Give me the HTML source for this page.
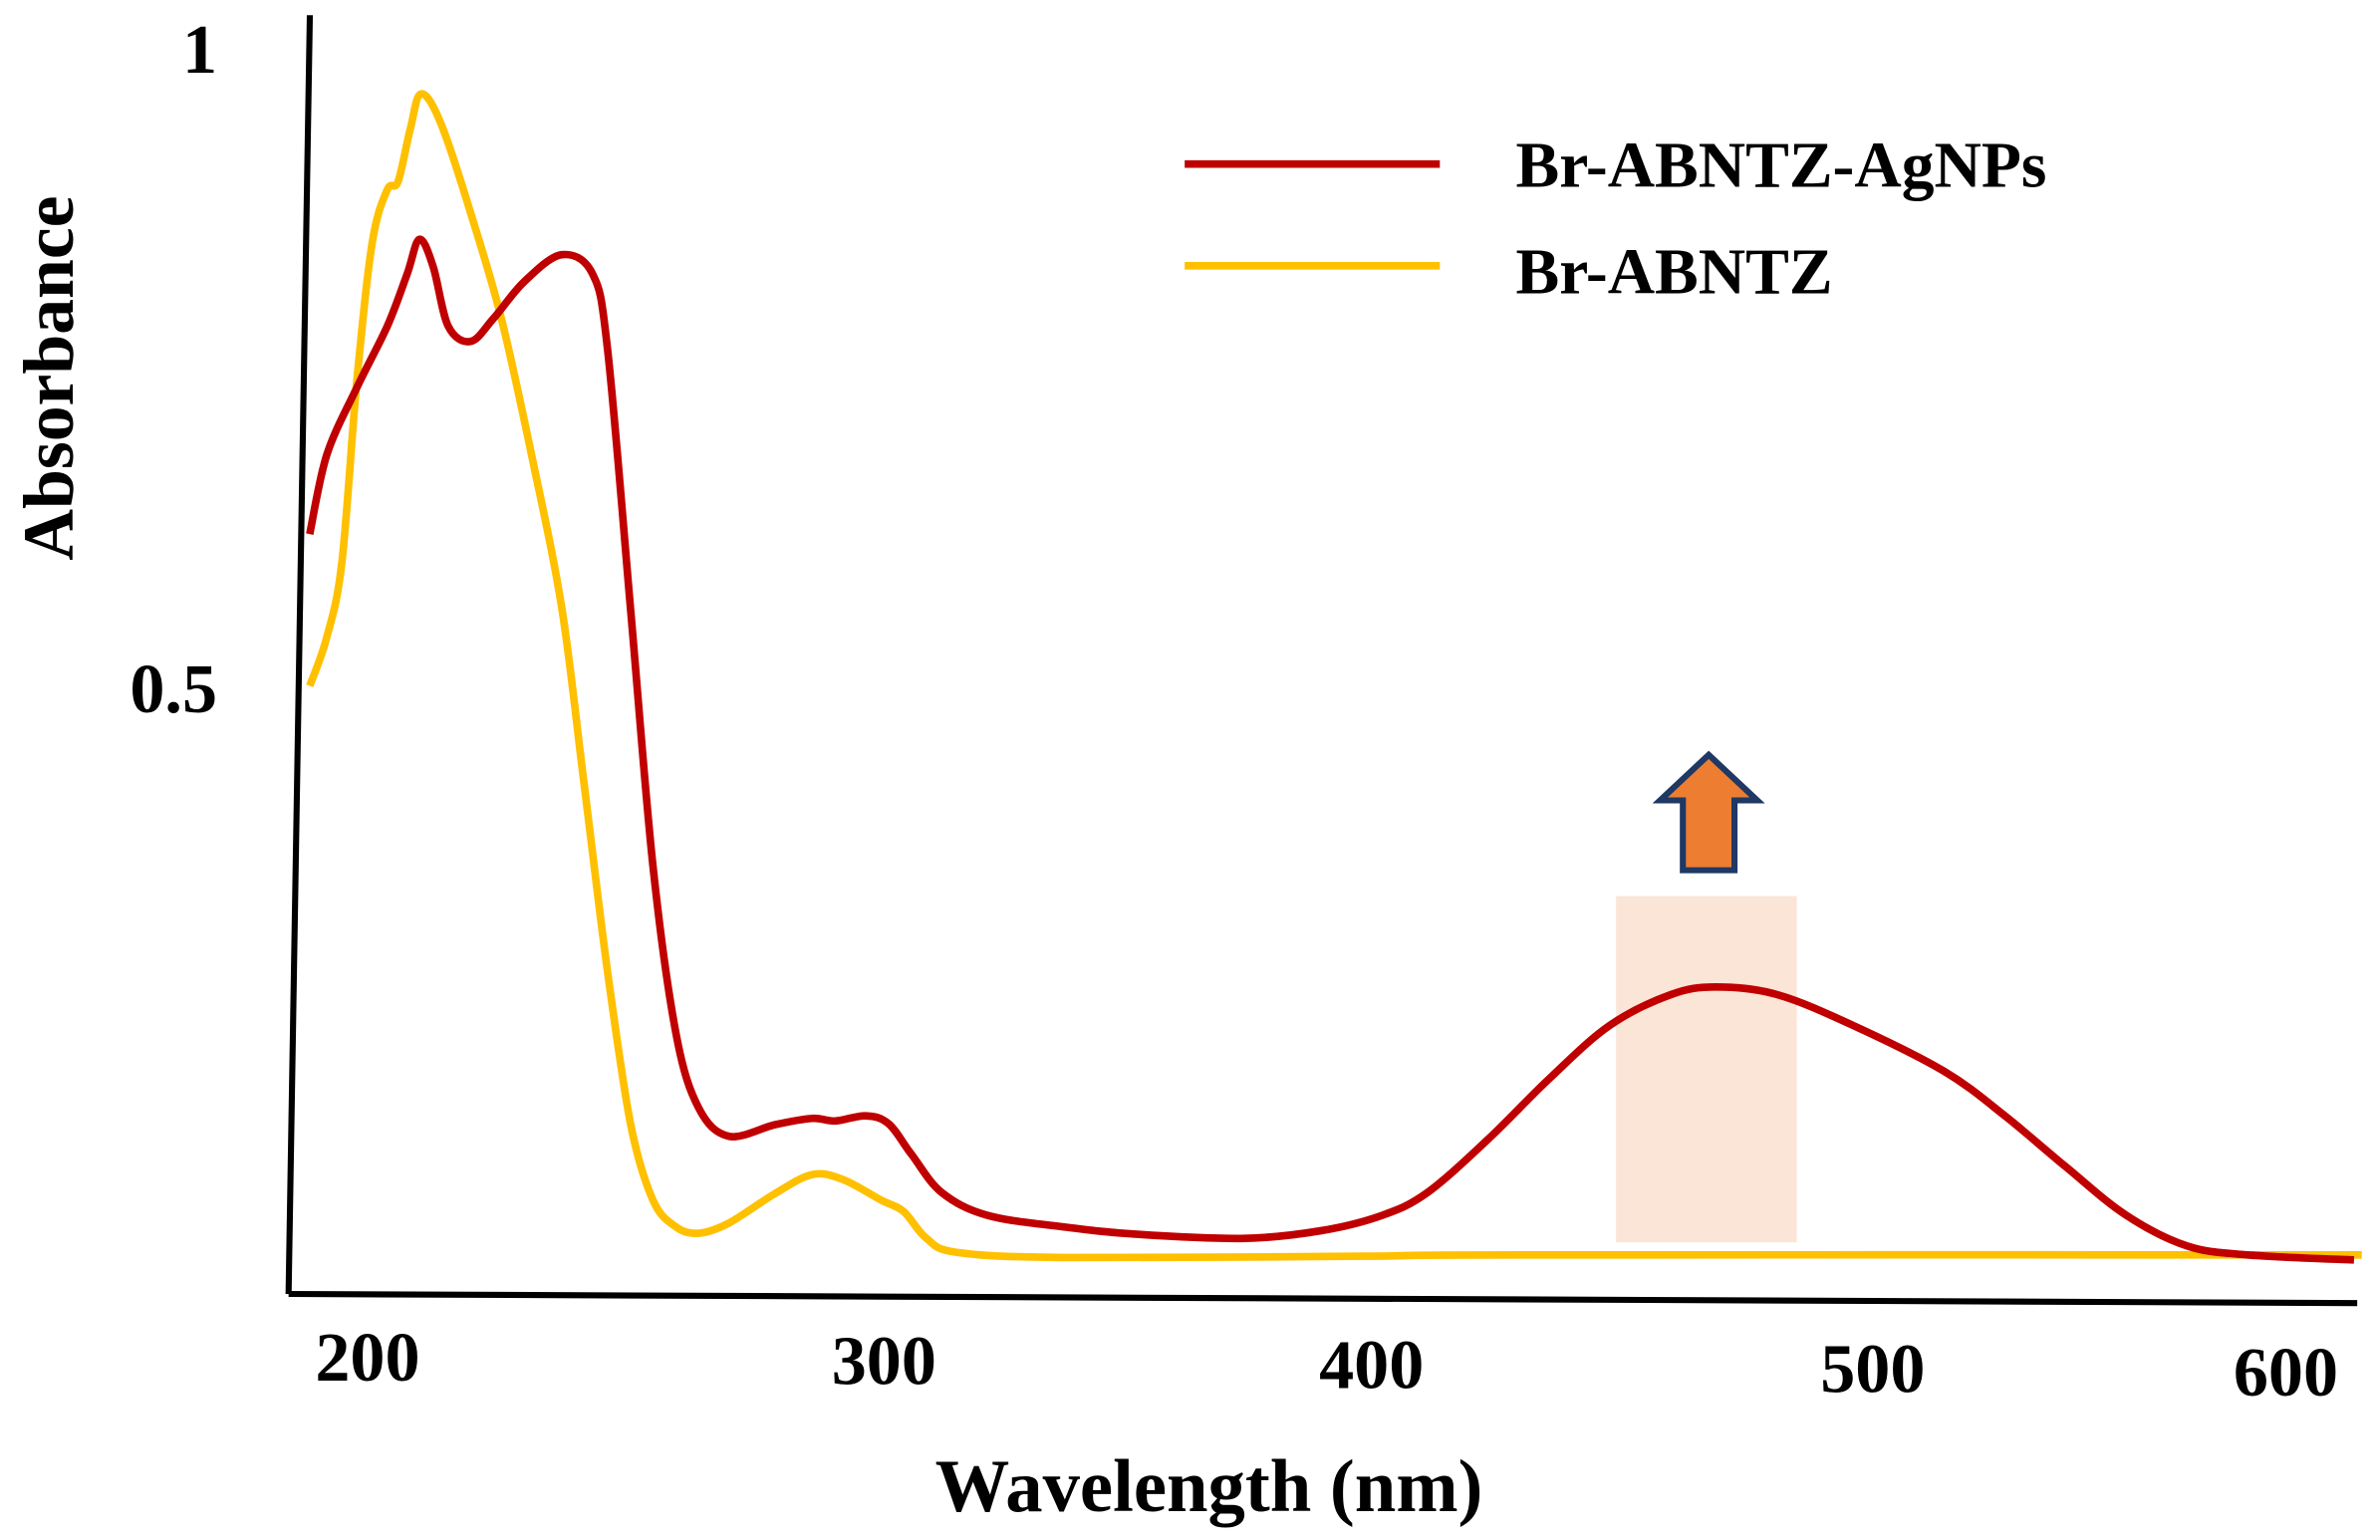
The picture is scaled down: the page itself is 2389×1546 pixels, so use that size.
<!DOCTYPE html>
<html><head><meta charset="utf-8"><style>
html,body{margin:0;padding:0;background:#fff;}
svg{display:block;}
text{font-family:"Liberation Serif",serif;font-weight:bold;fill:#000;}
</style></head><body>
<svg id="chart" width="2389" height="1546" viewBox="0 0 1567 1014" preserveAspectRatio="none" xmlns="http://www.w3.org/2000/svg">
<g id="axes">
<line x1="204" y1="10" x2="190" y2="852" stroke="#000" stroke-width="4"/>
<line x1="190" y1="852" x2="1552" y2="858" stroke="#000" stroke-width="4"/>
</g>
<rect x="1064" y="590" width="119" height="228" fill="#fbe5d6"/>
<g id="series"></g>
<path d="M1125,497 L1157,527 L1142,527 L1142,573 L1108,573 L1108,527 L1093,527 Z" fill="#ed7d31" stroke="#1f3864" stroke-width="4" stroke-linejoin="miter"/>
<g id="legend">
<line x1="780" y1="108" x2="948" y2="108" stroke="#c00000" stroke-width="5"/>
<text x="998" y="123" font-size="43">Br-ABNTZ-AgNPs</text>
<line x1="780" y1="175" x2="948" y2="175" stroke="#ffc000" stroke-width="5"/>
<text x="998" y="193" font-size="43">Br-ABNTZ</text>
</g>
<g id="labels"></g>
<text x="796" y="995" font-size="49" text-anchor="middle">Wavelength (nm)</text>
<text transform="translate(48,249) rotate(-90)" font-size="47" text-anchor="middle">Absorbance</text>
</svg>
<script>
const xTicks = [200, 300, 400, 500, 600];
const xTickPos = [242, 582, 903, 1233, 1505];
const yTicks = [0.5, 1];
const yTickLabels = ["0.5", "1"];
const redWl = [187.2,190.7,196.9,203.1,207.2,209.7,212.5,215.6,220.2,224.9,231.2,238.9,245.2,248.3,253.0,257.6,262.3,267.0,273.2,282.6,290.3,295.0,301.2,305.9,310.6,316.8,326.2,341.7,357.3,379.1,394.7,407.2,416.5,429.0,441.4,453.9,466.4,475.7,488.2,503.7,522.4,534.9,547.4,559.8,572.3,584.7,606.5];
const redAbs = [0.623,0.685,0.738,0.786,0.827,0.854,0.833,0.786,0.774,0.792,0.821,0.842,0.827,0.768,0.565,0.363,0.232,0.173,0.151,0.160,0.165,0.163,0.167,0.161,0.137,0.107,0.089,0.080,0.074,0.071,0.077,0.089,0.107,0.149,0.196,0.238,0.262,0.268,0.262,0.238,0.202,0.167,0.127,0.089,0.065,0.058,0.054];
const yelWl = [187.2,190.7,193.8,196.9,200.0,203.1,205.3,207.8,210.0,214.0,220.2,226.5,232.7,238.9,243.6,248.3,253.0,257.6,262.3,267.0,273.2,282.6,290.3,296.6,304.4,309.0,313.7,319.9,341.7,404.0,435.2,608.1];
const yelAbs = [0.504,0.542,0.601,0.744,0.851,0.893,0.899,0.940,0.968,0.946,0.875,0.792,0.685,0.565,0.423,0.280,0.161,0.101,0.080,0.075,0.083,0.106,0.121,0.117,0.101,0.092,0.071,0.060,0.056,0.057,0.058,0.058];

const NS = "http://www.w3.org/2000/svg";
function xScale(nm){ return 245 + (nm - 200) * 3.21; }
function yScale(a){ return 875 - a * 840; }
function smoothPath(xs, ys){
  const p = xs.map((v,i)=>[xScale(v), yScale(ys[i])]);
  let d = "M" + p[0][0].toFixed(1) + "," + p[0][1].toFixed(1);
  for (let i=0;i<p.length-1;i++){
    const p0=p[Math.max(i-1,0)], p1=p[i], p2=p[i+1], p3=p[Math.min(i+2,p.length-1)];
    const c1=[p1[0]+(p2[0]-p0[0])/6, p1[1]+(p2[1]-p0[1])/6];
    const c2=[p2[0]-(p3[0]-p1[0])/6, p2[1]-(p3[1]-p1[1])/6];
    d += " C"+c1[0].toFixed(1)+","+c1[1].toFixed(1)+" "+c2[0].toFixed(1)+","+c2[1].toFixed(1)+" "+p2[0].toFixed(1)+","+p2[1].toFixed(1);
  }
  return d;
}
const series = document.getElementById("series");
const yl = document.createElementNS(NS,"path");
yl.setAttribute("d", smoothPath(yelWl, yelAbs));
yl.setAttribute("fill","none"); yl.setAttribute("stroke","#ffc000"); yl.setAttribute("stroke-width","5");


series.appendChild(yl);
const rl = document.createElementNS(NS,"path");
rl.setAttribute("d", smoothPath(redWl, redAbs));
rl.setAttribute("fill","none"); rl.setAttribute("stroke","#c00000"); rl.setAttribute("stroke-width","5");


series.appendChild(rl);

const labels = document.getElementById("labels");
xTicks.forEach((t,i)=>{
  const tx = document.createElementNS(NS,"text");
  tx.setAttribute("x", xTickPos[i]); tx.setAttribute("y", 909 + i*2.5);
  tx.setAttribute("font-size","46"); tx.setAttribute("text-anchor","middle");
  tx.textContent = String(t);
  
  
  labels.appendChild(tx);
});
yTicks.forEach((t,i)=>{
  const tx = document.createElementNS(NS,"text");
  tx.setAttribute("x", 143); tx.setAttribute("y", (i===0 ? yScale(t)+14 : 48));
  tx.setAttribute("font-size","46"); tx.setAttribute("text-anchor","end");
  tx.textContent = yTickLabels[i];
  
  
  labels.appendChild(tx);
});
</script>
</body></html>
